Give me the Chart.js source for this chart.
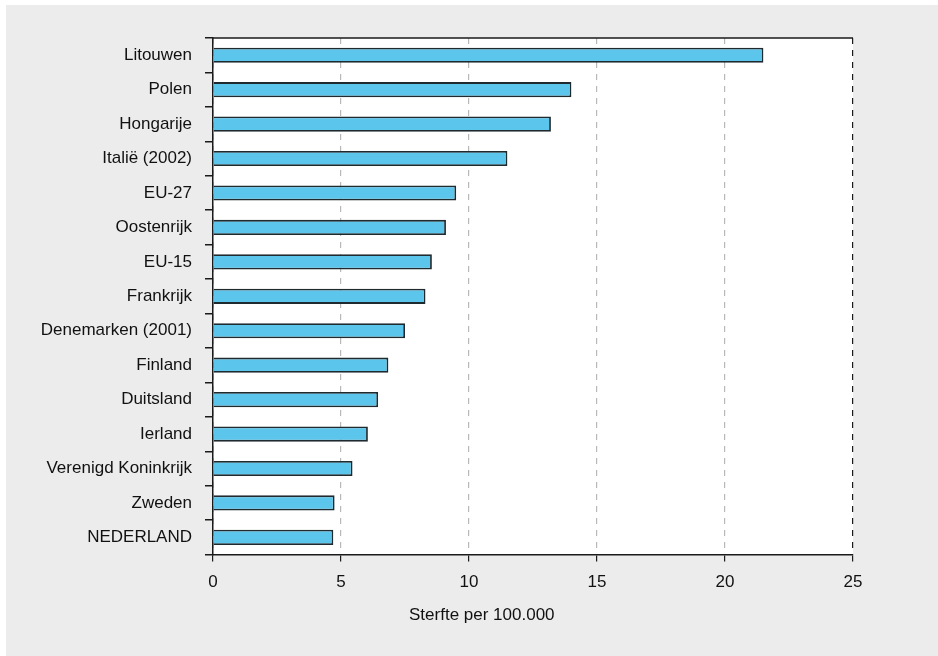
<!DOCTYPE html>
<html>
<head>
<meta charset="utf-8">
<script src="https://cdn.jsdelivr.net/npm/chart.js@4"></script>
<style>
  html, body { margin: 0; padding: 0; background: #ffffff; }
  #paneel {
    position: absolute; left: 6px; top: 5px;
    width: 932px; height: 651px;
    background: #ebeceb;
  }
</style>
</head>
<body>
<div id="paneel"><canvas id="grafiek" width="932" height="651"></canvas></div>
<script>
// Landen (van boven naar beneden)
const landen = [
  "Litouwen", "Polen", "Hongarije", "Italië (2002)", "EU-27", "Oostenrijk",
  "EU-15", "Frankrijk", "Denemarken (2001)", "Finland", "Duitsland",
  "Ierland", "Verenigd Koninkrijk", "Zweden", "NEDERLAND"
];
const sterfte = [21.5, 14.0, 13.2, 11.5, 9.5, 9.1, 8.55, 8.3, 7.5, 6.85, 6.45, 6.05, 5.45, 4.75, 4.7];
// Schaal van de x-as
const xMin = 0;
const xMax = 25;
const xStap = 5;
const asTitel = "Sterfte per 100.000";

const lettertype = "'Liberation Sans', Arial, sans-serif";

// Witte achtergrond, bovenrand en astitel (staat iets links van het midden)
const plotVlak = {
  id: 'plotVlak',
  beforeDraw(chart) {
    const { ctx, chartArea: a } = chart;
    ctx.save();
    ctx.fillStyle = '#ffffff';
    ctx.fillRect(a.left, a.top, a.right - a.left, a.bottom - a.top);
    ctx.restore();
  },
  afterDraw(chart) {
    const { ctx, chartArea: a } = chart;
    ctx.save();
    ctx.strokeStyle = '#1a1a1a';
    ctx.lineWidth = 1.5;
    ctx.beginPath();
    ctx.moveTo(a.left, a.top);
    ctx.lineTo(a.right, a.top);
    ctx.stroke();
    // astitel onder de x-as
    ctx.fillStyle = '#111111';
    ctx.font = "17px " + lettertype;
    ctx.textAlign = 'center';
    ctx.textBaseline = 'middle';
    ctx.fillText(asTitel, a.left + a.width * 0.42, a.bottom + 61);
    ctx.restore();
  }
};

new Chart(document.getElementById('grafiek'), {
  type: 'bar',
  data: {
    labels: landen,
    datasets: [{
      data: sterfte,
      backgroundColor: '#5bc5eb',
      borderColor: '#1f2a2e',
      borderWidth: 1.8,
      categoryPercentage: 1,
      barPercentage: 0.44
    }]
  },
  options: {
    indexAxis: 'y',
    responsive: false,
    animation: false,
    layout: {
      padding: { left: 10, right: 85, top: 33, bottom: 52 }
    },
    plugins: {
      legend: { display: false },
      tooltip: { enabled: false }
    },
    scales: {
      x: {
        min: xMin,
        max: xMax,
        ticks: {
          stepSize: xStap,
          color: '#111111',
          padding: 11,
          font: { family: lettertype, size: 17 }
        },
        grid: {
          color: c => (c.tick && (c.tick.value === xMax || c.tick.value === xMin)) ? '#1a1a1a' : '#b8b8b8',
          lineWidth: 1.2,
          tickLength: 7,
          tickColor: '#1a1a1a',
          tickBorderDash: []
        },
        border: { color: '#1a1a1a', width: 1.5, dash: [6, 6] }
      },
      y: {
        afterFit: s => { s.width = 197; },
        ticks: {
          color: '#111111',
          padding: 13,
          font: { family: lettertype, size: 17 }
        },
        grid: {
          offset: true,
          drawOnChartArea: false,
          tickLength: 8,
          color: '#1a1a1a',
          lineWidth: 1.5
        },
        border: { color: '#1a1a1a', width: 1.5 }
      }
    }
  },
  plugins: [plotVlak]
});
</script>
</body>
</html>
